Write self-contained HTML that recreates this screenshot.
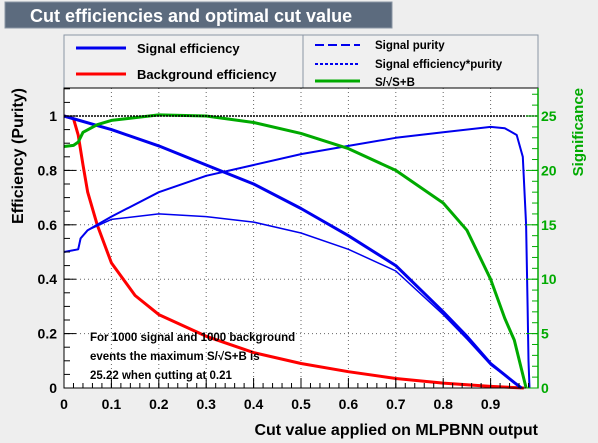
<!DOCTYPE html>
<html><head><meta charset="utf-8"><style>
body{margin:0;background:#eeeeee;overflow:hidden;}
svg{display:block;font-family:"Liberation Sans",Arial,sans-serif;font-weight:bold;}
</style></head><body>
<svg width="598" height="443" viewBox="0 0 598 443">
<rect x="0" y="0" width="598" height="443" fill="#eeeeee"/>
<rect x="5" y="2" width="387" height="26" fill="#5c6b7e" stroke="#8a96a4"/>
<text x="30" y="22" fill="#fff" font-size="18">Cut efficiencies and optimal cut value</text>
<g>
<rect x="64" y="35" width="474" height="53" fill="#f0f0f0" stroke="#8a96a4"/>
<line x1="303" y1="35" x2="303" y2="88" stroke="#8a96a4"/>
<line x1="76" y1="48" x2="126" y2="48" stroke="#0000ee" stroke-width="3"/>
<text x="137" y="53" font-size="13">Signal efficiency</text>
<line x1="76" y1="74" x2="126" y2="74" stroke="#ff0000" stroke-width="3"/>
<text x="137" y="79" font-size="13">Background efficiency</text>
<line x1="315" y1="45" x2="360" y2="45" stroke="#0000ee" stroke-width="2" stroke-dasharray="9,4"/>
<text x="375" y="49" font-size="11.5">Signal purity</text>
<line x1="315" y1="64" x2="360" y2="64" stroke="#0000ee" stroke-width="2" stroke-dasharray="3,2"/>
<text x="375" y="68" font-size="11.5">Signal efficiency*purity</text>
<line x1="315" y1="81" x2="360" y2="81" stroke="#00aa00" stroke-width="3"/>
<text x="375" y="86" font-size="11.5">S/√S+B</text>
</g>
<rect x="64" y="88" width="474" height="300" fill="#fff"/>
<g id="grid"></g>
<g id="curves"></g>
<line x1="64" y1="116" x2="538" y2="116" stroke="#000" stroke-width="1.5" stroke-dasharray="2,1"/>
<rect x="64" y="88" width="474" height="300" fill="none" stroke="#000"/>
<line x1="538" y1="88" x2="538" y2="388" stroke="#00aa00" stroke-width="1.5"/>
<g id="axes"></g>
<text x="90" y="341" font-size="11.5">For 1000 signal and 1000 background</text>
<text x="90" y="360" font-size="11.5">events the maximum S/√S+B is</text>
<text x="90" y="379" font-size="11.5">25.22 when cutting at  0.21</text>
<text x="538" y="435" font-size="16" text-anchor="end">Cut value applied on MLPBNN output</text>
<text transform="translate(23,88) rotate(-90)" font-size="16" text-anchor="end">Efficiency (Purity)</text>
<text transform="translate(583,88) rotate(-90)" font-size="15" fill="#00aa00" text-anchor="end">Significance</text>
</svg>
<script>
const xTicks=[0,0.1,0.2,0.3,0.4,0.5,0.6,0.7,0.8,0.9];
const yTicks=[0,0.2,0.4,0.6,0.8,1];
const sigTicks=[0,5,10,15,20,25];
const sigEffX=[0,0.1,0.2,0.3,0.4,0.5,0.6,0.7,0.8,0.85,0.9,0.95,0.965];
const sigEffY=[1,0.95,0.89,0.82,0.75,0.66,0.56,0.45,0.28,0.19,0.09,0.02,0];
const bkgX=[0,0.02,0.03,0.04,0.05,0.07,0.1,0.15,0.2,0.3,0.4,0.5,0.6,0.7,0.8,0.9,0.97];
const bkgY=[1,0.99,0.93,0.82,0.72,0.6,0.46,0.34,0.27,0.19,0.13,0.09,0.06,0.035,0.018,0.006,0];
const purX=[0,0.03,0.035,0.05,0.07,0.1,0.2,0.3,0.4,0.5,0.6,0.7,0.8,0.9,0.93,0.955,0.968,0.975,0.978,0.98,0.982];
const purY=[0.5,0.51,0.55,0.58,0.6,0.63,0.72,0.78,0.82,0.86,0.89,0.92,0.94,0.96,0.955,0.93,0.85,0.6,0.3,0.1,0];
const epX=[0,0.03,0.035,0.05,0.1,0.2,0.3,0.4,0.5,0.6,0.7,0.8,0.85,0.9,0.95,0.965];
const epY=[0.5,0.51,0.55,0.58,0.62,0.64,0.63,0.61,0.57,0.51,0.43,0.27,0.18,0.085,0.02,0];
const sigX=[0,0.02,0.03,0.04,0.07,0.1,0.2,0.3,0.4,0.5,0.6,0.7,0.8,0.85,0.9,0.93,0.95,0.975];
const sigY=[22.2,22.3,22.6,23.5,24.2,24.6,25.1,25.0,24.4,23.4,22.0,20.0,17.0,14.5,10.0,6.4,4.4,0];
const NS='http://www.w3.org/2000/svg';
const X=v=>64+v*474, Y=v=>388-v*272, YS=v=>388-v/25*272;
function mk(t,a,p){const e=document.createElementNS(NS,t);for(const k in a)e.setAttribute(k,a[k]);p.appendChild(e);return e;}
const grid=document.getElementById('grid'),axes=document.getElementById('axes'),curves=document.getElementById('curves');
xTicks.forEach(v=>{if(v>0){const l=mk('line',{x1:X(v),y1:88,x2:X(v),y2:388,stroke:'#666','stroke-dasharray':'1,3'},grid);

}
const t=mk('text',{x:X(v),y:409,'font-size':14,'text-anchor':'middle'},axes);t.textContent=v===0?'0':String(v);


mk('line',{x1:X(v),y1:388,x2:X(v),y2:378,stroke:'#000'},axes);});
for(let i=0;i<50;i++){mk('line',{x1:X(i/50),y1:388,x2:X(i/50),y2:383,stroke:'#000'},axes);}
yTicks.forEach(v=>{if(v>0&&v<1){const l=mk('line',{x1:64,y1:Y(v),x2:538,y2:Y(v),stroke:'#666','stroke-dasharray':'1,3'},grid);

}
const t=mk('text',{x:57,y:Y(v)+5,'font-size':14,'text-anchor':'end'},axes);t.textContent=String(v);


mk('line',{x1:64,y1:Y(v),x2:76,y2:Y(v),stroke:'#000'},axes);});
for(let i=0;i<=22;i++){mk('line',{x1:64,y1:Y(i/20),x2:70,y2:Y(i/20),stroke:'#000'},axes);}
sigTicks.forEach(v=>{const t=mk('text',{x:541,y:YS(v)+5,'font-size':14,fill:'#00aa00'},axes);t.textContent=String(v);


mk('line',{x1:538,y1:YS(v),x2:526,y2:YS(v),stroke:'#00aa00'},axes);});
for(let i=0;i<=27;i++){mk('line',{x1:538,y1:YS(i),x2:532,y2:YS(i),stroke:'#00aa00'},axes);}
function draw(xs,ys,fy,col,w,dash,name){const d=xs.map((x,i)=>(i?'L':'M')+X(x).toFixed(1)+','+fy(ys[i]).toFixed(1)).join('');
const p=mk('path',{d:d,fill:'none',stroke:col,'stroke-width':w,'stroke-dasharray':dash||'none','stroke-linejoin':'round'},curves);

}
draw(bkgX,bkgY,Y,'#ff0000',3,null,'background-efficiency-line');
draw(epX,epY,Y,'#0000ee',1.5,null,'signal-eff-purity-line');
draw(purX,purY,Y,'#0000ee',2,null,'signal-purity-line');
draw(sigEffX,sigEffY,Y,'#0000ee',3,null,'signal-efficiency-line');
draw(sigX,sigY,YS,'#00aa00',3,null,'significance-line');
</script>
</body></html>
